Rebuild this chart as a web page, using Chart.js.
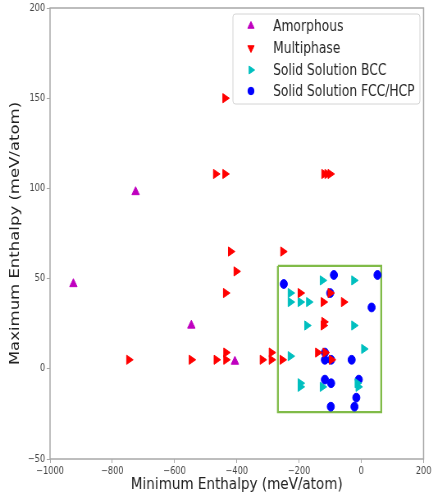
<!DOCTYPE html>
<html>
<head>
<meta charset="utf-8">
<script src="https://cdn.jsdelivr.net/npm/chart.js@4.4.0/dist/chart.umd.min.js"></script>
<style>
  html, body { margin: 0; padding: 0; background: #fff; overflow: hidden; }
  /* the source figure was squeezed sideways, so draw wide and squeeze */
  #wrap { width: 528px; height: 497px; transform: scaleX(0.8201); transform-origin: 0 0; }
</style>
</head>
<body>
<div id="wrap"><canvas id="chart" width="528" height="497"></canvas></div>
<script>
// Amorphous
const amorphousX = [-925, -725, -546, -406];
const amorphousY = [47, 98, 24, 4];

// Multiphase
const multiX = [-438, -468, -438, -120, -110, -100, -420, -252, -402, -436,
  -747, -546, -466, -435, -435, -318, -289, -289, -254,
  -196, -100, -122, -57, -120, -122, -140, -116, -96];
const multiY = [150, 108, 108, 108, 108, 108, 65, 65, 54, 42,
  5, 5, 5, 5, 9, 5, 5, 9, 5,
  42, 42, 37, 37, 26, 24, 9, 9, 5];

// Solid Solution BCC
const bccX = [-228, -228, -196, -169, -125, -24, -175, -24, 8, -228, -196, -196, -125, -13, -10];
const bccY = [42, 37, 37, 37, 49, 49, 24, 24, 11, 7, -8, -10, -10, -8, -10];

// Solid Solution FCC/HCP
const fccX = [-88, 52, -249, -100, 33, -117, -117, -97, -31, -117, -97, -8, -16, -98, -22];
const fccY = [52, 52, 47, 42, 34, 9, 5, 5, 5, -6, -8, -6, -16, -21, -21];

// highlighted region
const boxX = [-268, 64, 64, -268, -268];
const boxY = [57, 57, -24, -24, 57];

const xTicks = [-1000, -800, -600, -400, -200, 0, 200];
const yTicks = [-50, 0, 50, 100, 150, 200];

const toPts = (xs, ys) => xs.map((x, i) => ({ x: x, y: ys[i] }));
const minus = v => String(v).replace('-', '\u2212');

const series = [
  { label: 'Amorphous', color: '#bf00bf', style: 'triangle', rot: 0, legendRot: 0, r: 5.3, data: toPts(amorphousX, amorphousY) },
  { label: 'Multiphase', color: '#ff0000', style: 'triangle', rot: 90, legendRot: 180, r: 5.3, data: toPts(multiX, multiY) },
  { label: 'Solid Solution BCC', color: '#00bfbf', style: 'triangle', rot: 90, legendRot: 90, r: 5.3, data: toPts(bccX, bccY) },
  { label: 'Solid Solution FCC/HCP', color: '#0000ff', style: 'circle', rot: 0, legendRot: 0, r: 4.4, data: toPts(fccX, fccY) }
];

const datasets = series.map(s => ({
  label: s.label,
  data: s.data,
  pointStyle: s.style,
  rotation: s.rot,
  pointRadius: s.r,
  backgroundColor: s.color,
  borderColor: s.color,
  borderWidth: 1
}));
datasets.push({
  label: 'box',
  data: toPts(boxX, boxY),
  showLine: true,
  pointRadius: 0,
  borderColor: '#80bb48',
  borderWidth: 2.3,
  fill: false
});

const FONT = "'DejaVu Sans', sans-serif";

const frameAndLegend = {
  id: 'frameAndLegend',
  afterDraw(chart) {
    const ctx = chart.ctx;
    const a = chart.chartArea;
    ctx.save();
    ctx.strokeStyle = '#a8a8a8';
    ctx.lineWidth = 1.5;
    ctx.strokeRect(a.left, a.top, a.right - a.left, a.bottom - a.top);

    // legend box
    const bx = 284, by = 14, bw = 228, bh = 90;
    ctx.fillStyle = 'rgba(255,255,255,0.85)';
    ctx.strokeStyle = '#d4d4d4';
    ctx.lineWidth = 1;
    ctx.beginPath();
    ctx.roundRect(bx, by, bw, bh, 3);
    ctx.fill();
    ctx.stroke();

    const rows = [26, 48, 70, 91];
    ctx.font = '15px ' + FONT;
    ctx.textBaseline = 'middle';
    series.forEach((s, i) => {
      ctx.fillStyle = s.color;
      ctx.strokeStyle = s.color;
      Chart.helpers.drawPoint(ctx, {
        pointStyle: s.style, radius: s.r * 0.85, rotation: s.legendRot, borderWidth: 1
      }, 306, rows[i]);
      ctx.fillStyle = '#262626';
      ctx.fillText(s.label, 333, rows[i] + 1);
    });
    ctx.restore();
  }
};

new Chart(document.getElementById('chart'), {
  type: 'scatter',
  data: { datasets: datasets },
  options: {
    responsive: false,
    animation: false,
    layout: { padding: { top: 7, right: 7, left: 0, bottom: 0 } },
    plugins: { legend: { display: false }, tooltip: { enabled: false } },
    scales: {
      x: {
        min: -1000, max: 200,
        afterBuildTicks: sc => { sc.ticks = xTicks.map(v => ({ value: v })); },
        afterFit: sc => { sc.height = 38; },
        ticks: { color: '#444', font: { family: FONT, size: 10 }, padding: 2, maxRotation: 0, callback: v => minus(v) },
        grid: { drawOnChartArea: false, drawTicks: true, tickLength: 4, color: '#a8a8a8' },
        border: { display: false },
        title: { display: true, text: 'Minimum Enthalpy (meV/atom)', color: '#222', font: { family: FONT, size: 16.5 }, padding: { top: 0, bottom: 2 } }
      },
      y: {
        min: -50, max: 200,
        afterBuildTicks: sc => { sc.ticks = yTicks.map(v => ({ value: v })); },
        afterFit: sc => { sc.width = 61; },
        ticks: { color: '#444', font: { family: FONT, size: 10 }, padding: 2, callback: v => minus(v) },
        grid: { drawOnChartArea: false, drawTicks: true, tickLength: 4, color: '#a8a8a8' },
        border: { display: false },
        title: { display: true, text: 'Maximum Enthalpy (meV/atom)', color: '#222', font: { family: FONT, size: 16.5 }, padding: { top: 9, bottom: 0 } }
      }
    }
  },
  plugins: [frameAndLegend]
});
</script>
</body>
</html>
